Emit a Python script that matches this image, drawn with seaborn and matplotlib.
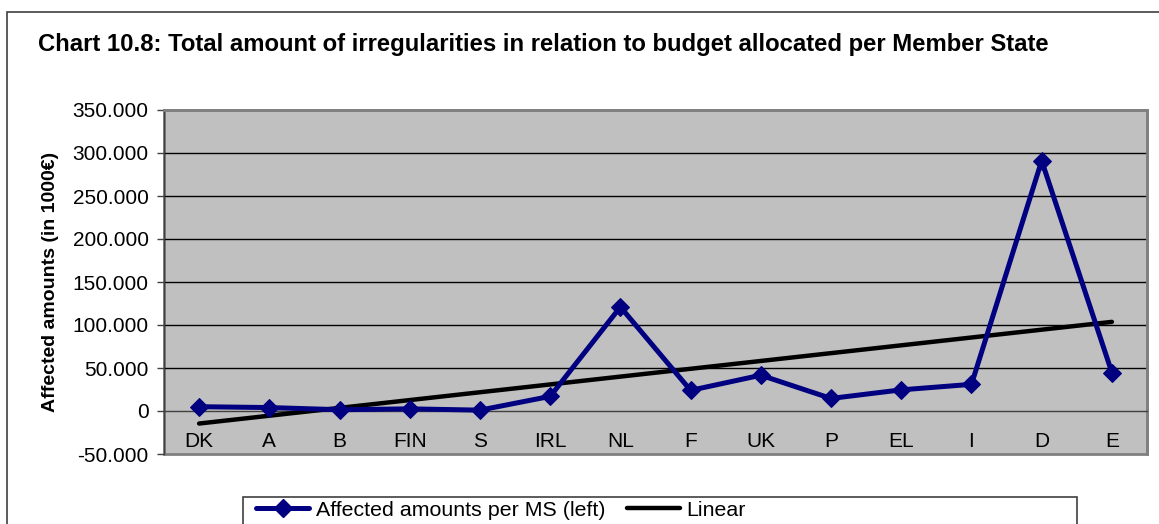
import numpy as np
import pandas as pd
import matplotlib.pyplot as plt
import matplotlib.patches as patches
from matplotlib.lines import Line2D
from matplotlib.ticker import FuncFormatter
import seaborn as sns

# Data (affected amounts, in 1000 EUR)
states = ["DK", "A", "B", "FIN", "S", "IRL", "NL", "F", "UK", "P", "EL", "I", "D", "E"]
amounts = [5000, 4000, 1500, 2500, 1000, 17000, 121000, 24000, 41600, 14600, 24600, 31000, 291000, 44700]

df = pd.DataFrame({"state": states, "amount": amounts})
df["pos"] = np.arange(len(df))

# linear trend line of the series
coef = np.polyfit(df["pos"], df["amount"], 1)
df["trend"] = np.polyval(coef, df["pos"])

sns.set_style("white")
plt.rcParams["font.family"] = ["Liberation Sans", "DejaVu Sans"]
plt.rcParams.update({"text.color": "black", "axes.labelcolor": "black",
                     "xtick.labelcolor": "black", "ytick.labelcolor": "black"})

W, H = 1159, 524
fig = plt.figure(figsize=(W / 100, H / 100), dpi=100)
ax = fig.add_axes([164 / W, (H - 454) / H, (1147 - 164) / W, 344 / H])

navy = "#000080"
sns.lineplot(data=df, x="pos", y="amount", ax=ax, color=navy, linewidth=3.6,
             marker="D", markersize=9, markeredgecolor=navy, zorder=4)
sns.lineplot(data=df, x="pos", y="trend", ax=ax, color="black", linewidth=3.2, zorder=3)

ax.set_facecolor("#C0C0C0")
ax.set_xlim(-0.5, len(states) - 0.5)
ax.set_ylim(-50000, 350000)
ax.set_yticks(np.arange(-50000, 350001, 50000))
ax.yaxis.set_major_formatter(FuncFormatter(lambda v, p: "0" if v == 0 else f"{v:,.0f}".replace(",", ".")))
for yv in np.arange(50000, 300001, 50000):
    ax.axhline(yv, color="black", linewidth=1, zorder=1)

# category axis crossing at 0
ax.set_xticks(np.arange(-0.5, len(states), 1))
ax.set_xticklabels([])
ax.set_xticks(df["pos"], minor=True)
ax.set_xticklabels(states, minor=True)
ax.tick_params(axis="x", which="major", direction="out", length=4, width=1, color="#404040")
ax.tick_params(axis="x", which="minor", length=0, pad=15, labelsize=15, labelcolor="black")
ax.tick_params(axis="y", direction="out", length=5, width=1, color="#404040", labelsize=15, pad=6,
               labelcolor="black")
ax.yaxis.set_ticks_position("left")
ax.spines["bottom"].set_position(("data", 0))
ax.spines["bottom"].set_color("#404040")
ax.spines["bottom"].set_linewidth(1)
for s in ["top", "right"]:
    ax.spines[s].set_color("#808080")
    ax.spines[s].set_linewidth(2)
ax.spines["left"].set_color("#404040")
ax.spines["left"].set_linewidth(1)
ax.add_patch(patches.Rectangle((0, 0), 1, 1, transform=ax.transAxes, fill=False,
                               edgecolor="#808080", linewidth=2, clip_on=False, zorder=0.5))

ax.set_xlabel("")
ax.set_ylabel("Affected amounts (in 1000€)", fontsize=14, fontweight="bold", labelpad=10, color="black")

fig.text(38 / W, 1 - 44 / H, "Chart 10.8: Total amount of irregularities in relation to budget allocated per Member State",
         fontsize=17.2, fontweight="bold", ha="left", va="center", color="black")

# outer chart frame
fig.add_artist(patches.Rectangle((7 / W, -0.1), 1.2, 1 - 12 / H + 0.1, transform=fig.transFigure,
                                 fill=False, edgecolor="#404040", linewidth=1.2))
# legend box
fig.add_artist(patches.Rectangle((243 / W, -0.1), (1077 - 243) / W, 0.1 + (H - 497) / H,
                                 transform=fig.transFigure, fill=False, edgecolor="#404040", linewidth=1.2))
handles = [Line2D([], [], color=navy, linewidth=3.6, marker="D", markersize=9),
           Line2D([], [], color="black", linewidth=3.2)]
leg = fig.legend(handles, ["Affected amounts per MS (left)", "Linear"], loc="center left",
                 bbox_to_anchor=(256 / W, 1 - 510 / H), ncol=2, frameon=False, fontsize=15.4,
                 handlelength=2.5, handletextpad=0.3, columnspacing=1.0, borderaxespad=0, borderpad=0)
for t in leg.get_texts():
    t.set_color("black")

fig.savefig("out.png", dpi=100)
